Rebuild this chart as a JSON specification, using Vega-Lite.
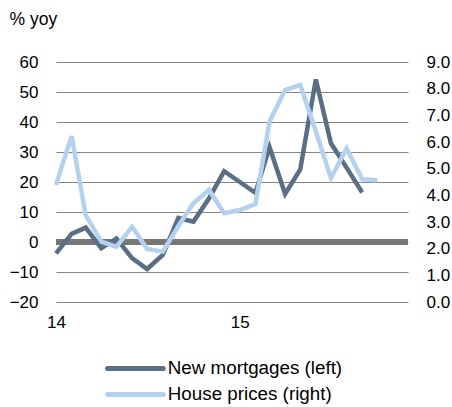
{
  "$schema": "https://vega.github.io/schema/vega-lite/v6.json",
  "width": 352,
  "height": 240,
  "autosize": "none",
  "padding": {"left": 56, "top": 62, "right": 44, "bottom": 105},
  "background": "white",
  "config": {
    "view": {"stroke": null},
    "font": "Liberation Sans",
    "axis": {"labelFont": "Liberation Sans", "labelFontSize": 17, "labelColor": "#000000", "domain": false, "ticks": false, "tickSize": 0, "labelOverlap": false},
    "legend": {"labelFont": "Liberation Sans", "labelFontSize": 18.8, "labelColor": "#000000", "labelLimit": 400}
  },
  "data": {"values": [
    {"date": "2014-01-01", "mortgages": -3.8, "prices": 4.39},
    {"date": "2014-02-01", "mortgages": 2.7, "prices": 6.22},
    {"date": "2014-03-01", "mortgages": 4.8, "prices": 3.26},
    {"date": "2014-04-01", "mortgages": -2.1, "prices": 2.26},
    {"date": "2014-05-01", "mortgages": 1.2, "prices": 2.07},
    {"date": "2014-06-01", "mortgages": -5.4, "prices": 2.82},
    {"date": "2014-07-01", "mortgages": -9.0, "prices": 1.99},
    {"date": "2014-08-01", "mortgages": -4.3, "prices": 1.89},
    {"date": "2014-09-01", "mortgages": 8.0, "prices": 2.85},
    {"date": "2014-10-01", "mortgages": 6.8, "prices": 3.7},
    {"date": "2014-11-01", "mortgages": 14.6, "prices": 4.2},
    {"date": "2014-12-01", "mortgages": 23.6, "prices": 3.33},
    {"date": "2015-01-01", "mortgages": 20.0, "prices": 3.45},
    {"date": "2015-02-01", "mortgages": 16.4, "prices": 3.67},
    {"date": "2015-03-01", "mortgages": 31.6, "prices": 6.76},
    {"date": "2015-04-01", "mortgages": 16.0, "prices": 7.95},
    {"date": "2015-05-01", "mortgages": 24.2, "prices": 8.14},
    {"date": "2015-06-01", "mortgages": 54.2, "prices": 6.4},
    {"date": "2015-07-01", "mortgages": 32.9, "prices": 4.64},
    {"date": "2015-08-01", "mortgages": 24.8, "prices": 5.76},
    {"date": "2015-09-01", "mortgages": 16.5, "prices": 4.6},
    {"date": "2015-10-01", "mortgages": null, "prices": 4.57}
  ]},
  "encoding": {
    "x": {
      "field": "date", "type": "temporal",
      "scale": {"domain": ["2014-01-01", "2015-12-01"]},
      "axis": {"values": ["2014-01-01", "2015-01-01"], "format": "%y", "grid": false, "title": null, "labelPadding": 12, "labelFlush": false}
    }
  },
  "layer": [
    {
      "mark": {"type": "rule", "color": "#777777", "strokeWidth": 5},
      "encoding": {"y": {"datum": 0, "type": "quantitative", "scale": {"domain": [-20, 60], "nice": false, "zero": false}, "axis": null}, "x": {"value": 0}, "x2": {"value": 352}}
    },
    {
      "mark": {"type": "line", "strokeWidth": 4.5, "strokeJoin": "miter"},
      "encoding": {
        "y": {
          "field": "mortgages", "type": "quantitative",
          "scale": {"domain": [-20, 60], "nice": false, "zero": false},
          "axis": {"values": [-20, -10, 0, 10, 20, 30, 40, 50, 60], "grid": true, "gridColor": "#868686", "gridWidth": 1, "labelPadding": 18, "title": "% yoy", "titleAngle": 0, "titleAlign": "left", "titleBaseline": "alphabetic", "titleX": -47, "titleY": -38, "titleFontSize": 17.5, "titleFontWeight": "normal", "titleFont": "Liberation Sans", "titleColor": "#000000"}
        },
        "color": {"datum": "New mortgages (left)"}
      }
    },
    {
      "mark": {"type": "line", "strokeWidth": 4.5, "strokeJoin": "miter"},
      "encoding": {
        "y": {
          "field": "prices", "type": "quantitative",
          "scale": {"domain": [0, 9], "nice": false, "zero": false},
          "axis": {"orient": "right", "values": [0, 1, 2, 3, 4, 5, 6, 7, 8, 9], "format": ".1f", "grid": false, "labelPadding": 18, "title": null}
        },
        "color": {
          "datum": "House prices (right)",
          "scale": {"domain": ["New mortgages (left)", "House prices (right)"], "range": ["#5a6e84", "#b4d2f0"]},
          "legend": {"title": null, "orient": "none", "legendX": 70, "legendY": 297, "symbolType": "M-5,0H5", "symbolSize": 124, "symbolStrokeWidth": 5, "symbolOffset": 0, "labelOffset": 23, "rowPadding": 5, "padding": 0,
            "encode": {"symbols": {"update": {"strokeCap": {"value": "round"}}}}}
        }
      }
    }
  ],
  "resolve": {"scale": {"y": "independent"}}
}
